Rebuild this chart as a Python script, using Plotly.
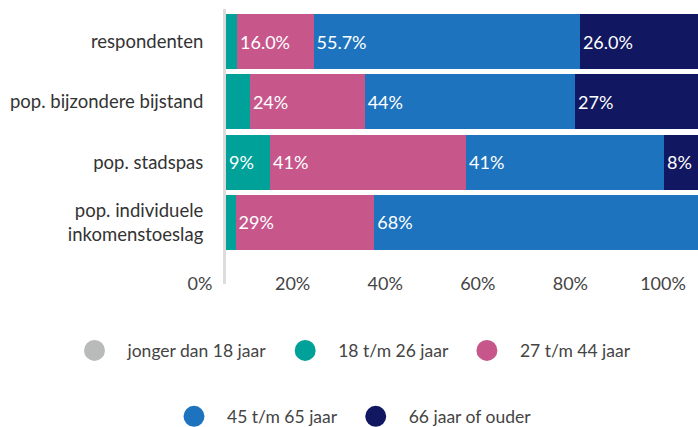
"""Leeftijdsverdeling respondenten vs populaties."""

import plotly.graph_objects as go

categories = [
    "respondenten",
    "pop. bijzondere bijstand",
    "pop. stadspas",
    "pop. individuele<br>inkomenstoeslag",
]
series_names = [
    "jonger dan 18 jaar",
    "18 t/m 26 jaar",
    "27 t/m 44 jaar",
    "45 t/m 65 jaar",
    "66 jaar of ouder",
]
series_colors = ["#b9bbba", "#00a199", "#c7578b", "#1e73be", "#111760"]

jonger_18 = [0, 0, 0, 0]
age_18_26 = [2.3, 5, 9.2, 2]
age_27_44 = [16.0, 24, 41, 29]
age_45_65 = [55.7, 44, 41.4, 68]
age_66_plus = [26.0, 27, 8, 1]
series_values = [jonger_18, age_18_26, age_27_44, age_45_65, age_66_plus]

# decimals used per row in the bar labels
row_decimals = [1, 0, 0, 0]

tick_vals = [0, 20, 40, 60, 80, 100]
tick_labels = ["0%", "20%", "40%", "60%", "80%", "100%"]

FONT = "Lato"
W, H = 698, 427

fig = go.Figure()

# stacked bars
for name, color, values in zip(series_names, series_colors, series_values):
    labels = [
        f"{v:.{d}f}%" if v >= 6 else "" for v, d in zip(values, row_decimals)
    ]
    fig.add_trace(
        go.Bar(
            y=categories,
            x=values,
            orientation="h",
            name=name,
            marker={"color": color, "line": {"width": 0}},
            text=labels,
            textposition="inside",
            insidetextanchor="start",
            insidetextfont={"color": "white", "size": 18, "family": FONT},
            showlegend=False,
            hoverinfo="skip",
        )
    )

# empty trace so the tick-label axis gets drawn
fig.add_trace(
    go.Scatter(
        x=[None], y=[None], xaxis="x2", yaxis="y2",
        showlegend=False, hoverinfo="skip",
    )
)

# legend entries as circles, split over two centered rows
for i, (name, color) in enumerate(zip(series_names, series_colors)):
    fig.add_trace(
        go.Scatter(
            x=[None],
            y=[None],
            mode="markers",
            name=name,
            marker={
                "color": color,
                "size": 16,
                "symbol": "circle",
                "line": {"color": color, "width": 5},
            },
            legend="legend" if i < 3 else "legend2",
            hoverinfo="skip",
        )
    )

legend_style = {
    "orientation": "h",
    "traceorder": "normal",
    "xref": "container",
    "yref": "container",
    "xanchor": "center",
    "x": 0.5,
    "yanchor": "middle",
    "itemwidth": 56,
    "font": {"family": FONT, "size": 17.5, "color": "#444444"},
    "bgcolor": "rgba(0,0,0,0)",
}

fig.update_layout(
    width=W,
    height=H,
    barmode="stack",
    bargap=0.09,
    plot_bgcolor="rgba(0,0,0,0)",
    paper_bgcolor="white",
    margin={"l": 0, "r": 0, "t": 9, "b": 143, "pad": 0},
    font={"family": FONT, "color": "#333333"},
    xaxis={
        "domain": [226 / W, 1],
        "range": [0, 98.7],
        "showgrid": False,
        "zeroline": False,
        "showticklabels": False,
        "automargin": False,
        "fixedrange": True,
    },
    # tick labels sit on their own scale, as in the original
    xaxis2={
        "domain": [200 / W, 663 / W],
        "range": [0, 100],
        "anchor": "y2",
        "side": "bottom",
        "tickvals": tick_vals,
        "ticktext": tick_labels,
        "showgrid": False,
        "zeroline": False,
        "showline": False,
        "ticks": "",
        "ticklabelstandoff": 3,
        "automargin": False,
        "tickfont": {"family": FONT, "size": 18, "color": "#444444"},
    },
    yaxis={
        "range": [4.02, -0.539],
        "showline": True,
        "linecolor": "#dcdcdc",
        "linewidth": 3,
        "showgrid": False,
        "zeroline": False,
        "ticks": "",
        "ticklabelstandoff": 16,
        "automargin": False,
        "tickfont": {"family": FONT, "size": 18.5, "color": "#333333"},
    },
    yaxis2={
        "domain": [0.057, 1],
        "anchor": "x2",
        "visible": False,
        "range": [0, 1],
    },
    legend={**legend_style, "y": 0.179},
    legend2={**legend_style, "y": 0.0246},
)

# drop the default page margin so the 698x427 figure fills the window
fig.write_html(
    "out.html",
    config={"displayModeBar": False},
    post_script="document.body.style.margin = '0';",
)
